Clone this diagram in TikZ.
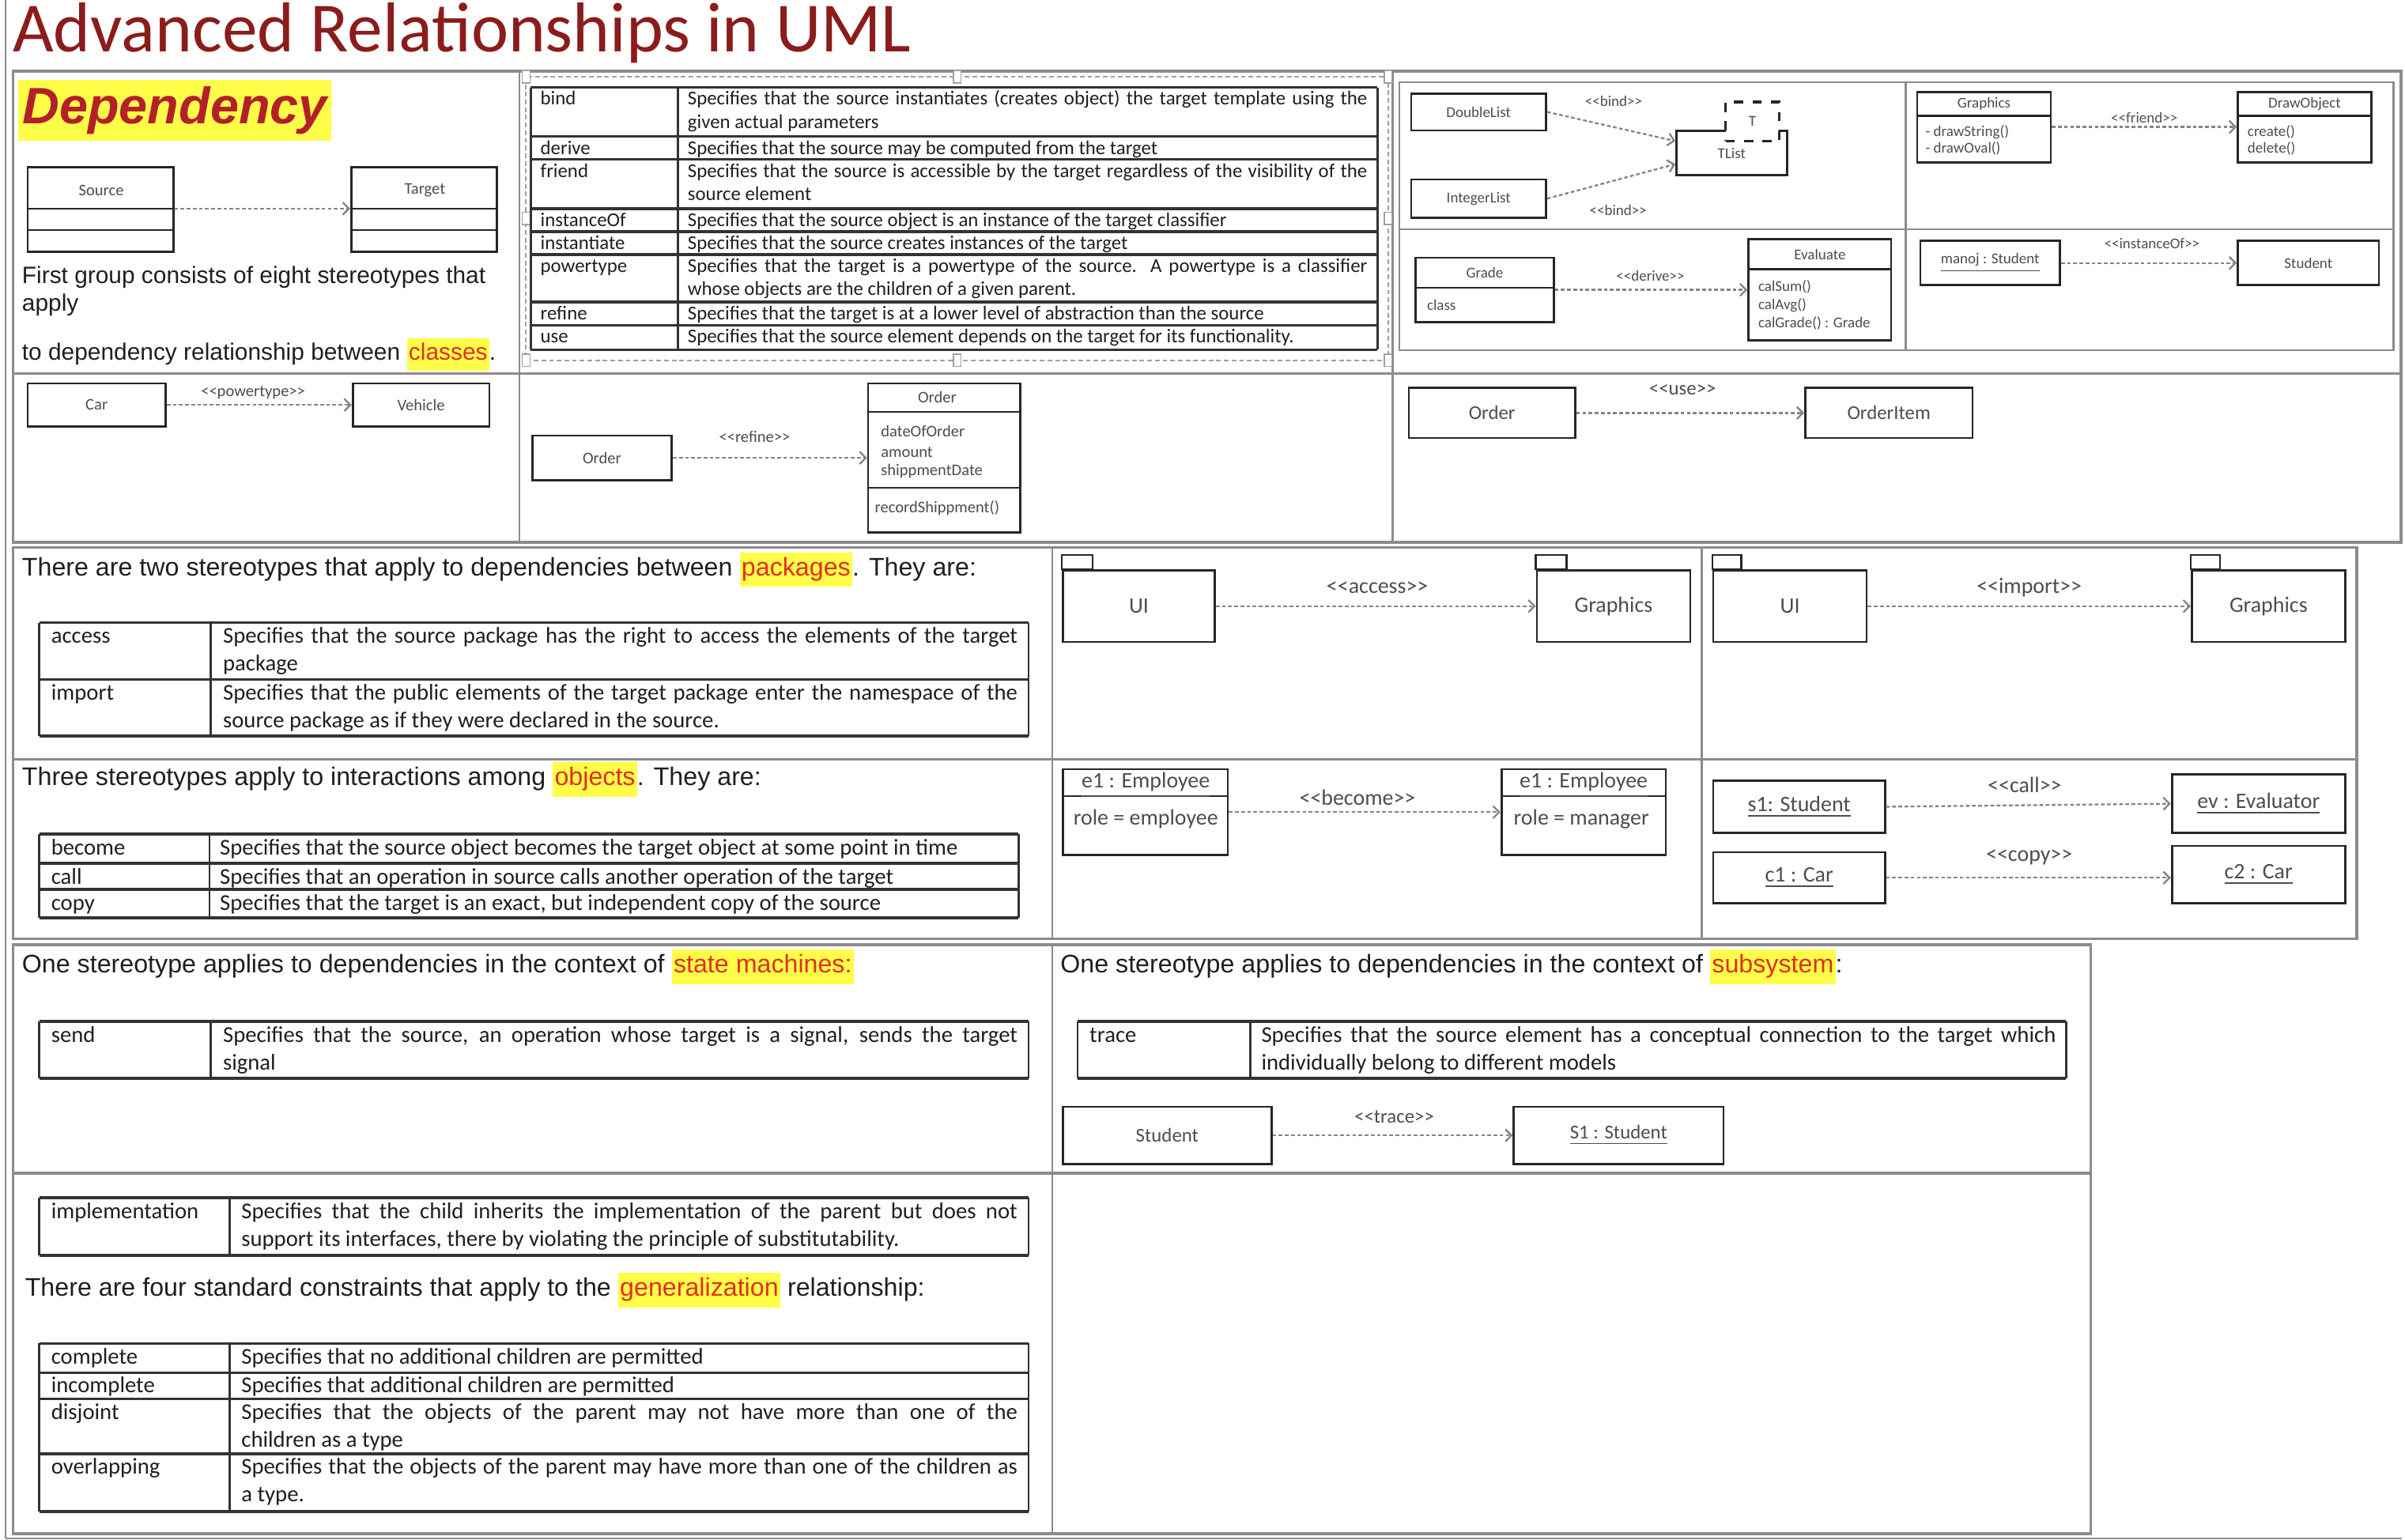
\documentclass[tikz,border=0pt]{standalone}
\usepackage{fontspec}
\setmainfont{Liberation Sans}
\newfontfamily\calfont{Carlito}
\usetikzlibrary{arrows.meta,fit}
\definecolor{bordergray}{HTML}{8C8C8C}
\definecolor{tablegray}{HTML}{333333}
\definecolor{boxc}{HTML}{262626}
\definecolor{umltext}{HTML}{4D4D4D}
\definecolor{depc}{HTML}{858585}
\definecolor{titlec}{HTML}{8B1C1C}
\definecolor{depred}{HTML}{B3202A}
\definecolor{hlr}{HTML}{E0301E}
\definecolor{hly}{HTML}{FFFF4A}
\definecolor{selc}{HTML}{A0A0A0}
\definecolor{txt}{HTML}{1F1F1F}
\newcommand{\hlw}[1]{{\setlength{\fboxsep}{0.6pt}\colorbox{hly}{\strut\textcolor{hlr}{#1}}}}
\newcommand{\stereo}[1]{\textless\textless#1\textgreater\textgreater}
\newcommand{\ubox}[7][]{\node[ubox,#1,fit={(#3,#4) (#5,#6)}] (#2) {};
  \node[lab,#1,draw=none,fill=none] (#2t) at (#2.center) {#7};}
\newcommand{\compline}[2]{\draw[boxline] (#1.west |- 0,#2) -- (#1.east |- 0,#2);}
\newcommand\ufa{\calfont\fontsize{4.9}{5.9}\selectfont}
\newcommand\ufb{\calfont\fontsize{5.3}{6.4}\selectfont}
\newcommand\ufc{\calfont\fontsize{6.4}{7.7}\selectfont}
\newcommand\ufd{\calfont\fontsize{7.2}{8.6}\selectfont}
\newcommand\tfa{\calfont\fontsize{6.4}{7.6}\selectfont}
\newcommand\tfb{\calfont\fontsize{7.4}{9}\selectfont}
\begin{document}
\begin{tikzpicture}[x=0.5pt,y=-0.5pt,
  blk/.style={draw=bordergray,line width=0.9pt},
  blkin/.style={draw=bordergray,line width=0.6pt},
  tline/.style={draw=tablegray,line width=0.9pt},
  tvline/.style={draw=tablegray,line width=0.7pt},
  bodyA/.style={anchor=west,inner sep=0pt,text=txt,font=\fontsize{7.7}{9.3}\selectfont,text height=5.6pt,text depth=1.6pt},
  bodyB/.style={anchor=west,inner sep=0pt,text=txt,font=\fontsize{8.3}{10}\selectfont,text height=6pt,text depth=1.7pt},
  tk1/.style={anchor=north west,inner sep=0pt,text=txt,font=\tfa,execute at begin node=\strut},
  td1/.style={tk1,text width=221.5pt,align=justify},
  tk2/.style={anchor=north west,inner sep=0pt,text=txt,font=\tfb,execute at begin node=\strut},
  td2/.style={tk2,text width=259pt,align=justify},
  td6/.style={tk2,text width=253pt,align=justify},
  ubox/.style={draw=boxc,line width=0.7pt,fill=white,inner sep=0pt,text=umltext},
  boxline/.style={draw=boxc,line width=0.6pt},
  lab/.style={inner sep=0pt,text=umltext},
  dep/.style={draw=depc,line width=0.6pt,dash pattern=on 1.2pt off 0.8pt,-{Straight Barb[length=2pt,width=4pt]}}
]
\useasboundingbox[fill=white] (0,0) rectangle (1568,1004);

% title
\node[anchor=base west,inner sep=0pt,font=\calfont\fontsize{23}{27}\selectfont,text=titlec] (title) at (8,34) {Advanced Relationships in UML};

% outer lines
\draw[blkin] (3.5,0) -- (3.5,1003);
\draw[blkin] (3.5,1003) -- (1566,1003);

% ================= Block 1 =================
\draw[blk] (8.5,46.5) rectangle (1565.5,353.5);
\draw[blkin] (338.5,46.5) -- (338.5,353.5);
\draw[blkin] (908,46.5) -- (908,353.5);
\draw[blk] (8.5,243.5) -- (1565.5,243.5);
\draw[blkin] (912.5,53.5) rectangle (1560.5,228.5);
\draw[blkin] (1242.5,53.5) -- (1242.5,228.5);
\draw[blkin] (912.5,149.5) -- (1560.5,149.5);

% Dependency heading
\node[fill=hly,minimum width=102pt,minimum height=20pt,inner sep=0pt,font=\bfseries\itshape\fontsize{16.7}{20}\selectfont,text=depred] (dephead) at (114,72) {Dependency};

% Source / Target
\ubox{src}{18}{109}{113}{164}{}
\compline{src}{136}
\compline{src}{150}
\node[lab,font=\ufb] (srct) at (66,124) {Source};
\ubox{tgt}{229}{109}{324}{164}{}
\compline{tgt}{136}
\compline{tgt}{150}
\node[lab,font=\ufb] (tgtt) at (277,124) {Target};
\draw[dep] (src.east |- 0,136) -- (tgt.west |- 0,136);

\node[bodyA] (fg1) at (14,181) {First group consists of eight stereotypes that};
\node[bodyA] (fg2) at (14,199) {apply};
\node[bodyA] (fg3) at (14,231) {to dependency relationship between \hlw{classes}.};

% Table 1 with selection frame
\draw[selc,line width=0.5pt,dash pattern=on 1.5pt off 1pt] (343,50) rectangle (905,235);
\foreach \hx/\hy in {343/50,624/50,905/50,343/142.5,905/142.5,343/235,624/235,905/235}
  \draw[selc,fill=white,line width=0.4pt] (\hx-2.5,\hy-4) rectangle (\hx+2.5,\hy+4);
\foreach \yy in {57,89,104,136,151,166,197,212,228}
  \draw[tline] (346,\yy) -- (898,\yy);
\draw[tvline] (346,57) -- (346,228);
\draw[tvline] (442,57) -- (442,228);
\draw[tvline] (898,57) -- (898,228);
\node[tk1] (k1a) at (352,57.5) {bind};
\node[td1] (d1a) at (448,57.5) {Specifies that the source instantiates (creates object) the target template using the\linebreak given actual parameters};
\node[tk1] (k1b) at (352,89.5) {derive};
\node[td1] (d1b) at (448,89.5) {Specifies that the source may be computed from the target};
\node[tk1] (k1c) at (352,104.5) {friend};
\node[td1] (d1c) at (448,104.5) {Specifies that the source is accessible by the target regardless of the visibility of the\linebreak source element};
\node[tk1] (k1d) at (352,136.5) {instanceOf};
\node[td1] (d1d) at (448,136.5) {Specifies that the source object is an instance of the target classifier};
\node[tk1] (k1e) at (352,151.5) {instantiate};
\node[td1] (d1e) at (448,151.5) {Specifies that the source creates instances of the target};
\node[tk1] (k1f) at (352,166.5) {powertype};
\node[td1] (d1f) at (448,166.5) {Specifies that the target is a powertype of the source. A powertype is a classifier\linebreak whose objects are the children of a given parent.};
\node[tk1] (k1g) at (352,197.5) {refine};
\node[td1] (d1g) at (448,197.5) {Specifies that the target is at a lower level of abstraction than the source};
\node[tk1] (k1h) at (352,212.5) {use};
\node[td1] (d1h) at (448,212.5) {Specifies that the source element depends on the target for its functionality.};

% ---- bind quadrant
\ubox[font=\ufa]{dl}{920}{61}{1008}{85}{DoubleList}
\ubox[font=\ufa]{il}{920}{117}{1008}{142}{IntegerList}
\ubox{tl}{1093}{85.5}{1165}{114}{}
\node[lab,font=\ufa] (tlt) at (1129,100) {TList};
\ubox[font=\ufa,dashed,line width=0.9pt]{tp}{1125}{66.5}{1160}{92}{T}
\node[lab,font=\ufa] (bd1) at (1052,66) {\stereo{bind}};
\node[lab,font=\ufa] (bd2) at (1055,137) {\stereo{bind}};
\draw[dep] (dl.east) -- (tl.west |- 0,92);
\draw[dep] (il.east) -- (tl.west |- 0,107);

% ---- friend quadrant
\ubox{grc}{1250}{60}{1337}{106}{}
\compline{grc}{75.6}
\node[lab,font=\ufa] (grn) at (1293.5,68) {Graphics};
\node[lab,font=\ufa,anchor=west] (grm1) at (1255,86) {- drawString()};
\node[lab,font=\ufa,anchor=west] (grm2) at (1255,97) {- drawOval()};
\ubox{dro}{1459}{60}{1546}{106}{}
\compline{dro}{75.6}
\node[lab,font=\ufa] (dron) at (1502.5,68) {DrawObject};
\node[lab,font=\ufa,anchor=west] (drm1) at (1465,86) {create()};
\node[lab,font=\ufa,anchor=west] (drm2) at (1465,97) {delete()};
\node[lab,font=\ufa] (frl) at (1398,77) {\stereo{friend}};
\draw[dep] (grc.east |- 0,82.8) -- (dro.west |- 0,82.8);

% ---- derive quadrant
\ubox{gdc}{923}{168}{1013}{210}{}
\compline{gdc}{187.8}
\node[lab,font=\ufa] (gdn) at (968,178) {Grade};
\node[lab,font=\ufa,anchor=west] (gda) at (930,199) {class};
\ubox{evc}{1140}{156}{1233}{222}{}
\compline{evc}{175.6}
\node[lab,font=\ufa] (evn) at (1186.5,166) {Evaluate};
\node[lab,font=\ufa,anchor=west] (evm1) at (1146,187) {calSum()};
\node[lab,font=\ufa,anchor=west] (evm2) at (1146,199) {calAvg()};
\node[lab,font=\ufa,anchor=west] (evm3) at (1146,211) {calGrade() : Grade};
\node[lab,font=\ufa] (dvl) at (1076,180) {\stereo{derive}};
\draw[dep] (gdc.east |- 0,189) -- (evc.west |- 0,189);

% ---- instanceOf quadrant
\ubox[font=\ufa]{mjc}{1252}{157}{1343}{186}{\underline{manoj : Student}}
\ubox[font=\ufa]{stc}{1459}{157}{1551}{186}{Student}
\node[lab,font=\ufa] (iol) at (1403,159) {\stereo{instanceOf}};
\draw[dep] (mjc.east) -- (stc.west);

% ---- row 2
\ubox[font=\ufb]{car}{18}{250}{108}{278}{Car}
\ubox[font=\ufb]{veh}{230}{250}{319}{278}{Vehicle}
\node[lab,font=\ufb] (ptl) at (165,256) {\stereo{powertype}};
\draw[dep] (car.east) -- (veh.west);

\ubox[font=\ufb]{ord1}{347}{284}{438}{313}{Order}
\ubox{ordc}{566}{250}{665}{347}{}
\compline{ordc}{268.6}
\compline{ordc}{318}
\node[lab,font=\ufb] (ordn) at (611,259) {Order};
\node[lab,font=\ufb,anchor=west] (orda1) at (574,281) {dateOfOrder};
\node[lab,font=\ufb,anchor=west] (orda2) at (574,295) {amount};
\node[lab,font=\ufb,anchor=west] (orda3) at (574,307) {shippmentDate};
\node[lab,font=\ufb,anchor=west] (ordm) at (570,331) {recordShippment()};
\node[lab,font=\ufb] (rfl) at (492,285) {\stereo{refine}};
\draw[dep] (ord1.east) -- (ord1.east -| ordc.west);

\ubox[font=\ufc]{ord2}{918.5}{253}{1027}{285.5}{Order}
\ubox[font=\ufc]{oitem}{1177}{253}{1286}{285.5}{OrderItem}
\node[lab,font=\ufc] (usl) at (1097,254) {\stereo{use}};
\draw[dep] (ord2.east) -- (oitem.west);

% ================= Block 2 =================
\draw[blk] (8.5,357) rectangle (1536.5,612);
\draw[blkin] (686,357) -- (686,612);
\draw[blkin] (1109.5,357) -- (1109.5,612);
\draw[blk] (8.5,495) -- (1536.5,495);

\node[bodyB] (pk) at (14,371) {There are two stereotypes that apply to dependencies between \hlw{packages}. They are:};
\foreach \yy in {406,443,480}
  \draw[tline] (25.6,\yy) -- (670.6,\yy);
\draw[tvline] (25.6,406) -- (25.6,480);
\draw[tvline] (137.5,406) -- (137.5,480);
\draw[tvline] (670.6,406) -- (670.6,480);
\node[tk2] (k2a) at (33,406.5) {access};
\node[td2] (d2a) at (145,406.5) {Specifies that the source package has the right to access the elements of the target\linebreak package};
\node[tk2] (k2b) at (33,443.5) {import};
\node[td2] (d2b) at (145,443.5) {Specifies that the public elements of the target package enter the namespace of the\linebreak source package as if they were declared in the source.};

\node[bodyB] (ob) at (14,508) {Three stereotypes apply to interactions among \hlw{objects}. They are:};
\foreach \yy in {543.8,563,580,598.5}
  \draw[tline] (25.6,\yy) -- (664,\yy);
\draw[tvline] (25.6,543.8) -- (25.6,598.5);
\draw[tvline] (136.6,543.8) -- (136.6,598.5);
\draw[tvline] (664,543.8) -- (664,598.5);
\node[tk2] (k3a) at (33,544.3) {become};
\node[tk2] (d3a) at (143,544.3) {Specifies that the source object becomes the target object at some point in time};
\node[tk2] (k3b) at (33,563.3) {call};
\node[tk2] (d3b) at (143,563.3) {Specifies that an operation in source calls another operation of the target};
\node[tk2] (k3c) at (33,580.5) {copy};
\node[tk2] (d3c) at (143,580.5) {Specifies that the target is an exact, but independent copy of the source};

% packages diagrams
\ubox[font=\ufd]{ui1}{693}{372}{792}{418.5}{UI}
\draw[boxline] (ui1.north west) rectangle ++(20,-9.5);
\ubox[font=\ufd]{gp1}{1002}{372}{1102}{418.5}{Graphics}
\draw[boxline] (gp1.north west) rectangle ++(20,-9.5);
\node[lab,font=\ufd] (acl) at (898,383) {\stereo{access}};
\draw[dep] (ui1.east) -- (gp1.west);

\ubox[font=\ufd]{ui2}{1117}{372}{1217}{418.5}{UI}
\draw[boxline] (ui2.north west) rectangle ++(19,-9.5);
\ubox[font=\ufd]{gp2}{1429}{372}{1529}{418.5}{Graphics}
\draw[boxline] (gp2.north west) rectangle ++(19,-9.5);
\node[lab,font=\ufd] (iml) at (1323,383) {\stereo{import}};
\draw[dep] (ui2.east) -- (gp2.west);

% objects diagrams
\ubox{e1a}{693}{501.5}{800.5}{557.6}{}
\compline{e1a}{519}
\node[lab,font=\ufd] (e1an) at (747,512) {\underline{e1 : Employee}};
\node[lab,font=\ufd] (e1ar) at (747,534) {role = employee};
\ubox{e1b}{979}{501.5}{1086}{557.6}{}
\compline{e1b}{519}
\node[lab,font=\ufd] (e1bn) at (1032.5,512) {\underline{e1 : Employee}};
\node[lab,font=\ufd] (e1br) at (1031,534) {role = manager};
\node[lab,font=\ufd] (bcl) at (885,520) {\stereo{become}};
\draw[dep] (e1a.east |- 0,529.5) -- (e1b.west |- 0,529.5);

\ubox[font=\ufd]{s1c}{1117}{509}{1229}{543}{\underline{s1: Student}}
\ubox[font=\ufd]{evo}{1416}{505}{1529}{543}{\underline{ev : Evaluator}}
\node[lab,font=\ufd] (cll) at (1320,512) {\stereo{call}};
\draw[dep] (s1c.east) -- (evo.west |- 0,524);
\ubox[font=\ufd]{c1c}{1117}{555.6}{1229}{589}{\underline{c1 : Car}}
\ubox[font=\ufd]{c2c}{1416}{551.5}{1529}{589}{\underline{c2 : Car}}
\node[lab,font=\ufd] (cpl) at (1323,559) {\stereo{copy}};
\draw[dep] (c1c.east) -- (c2c.west |- c1c.east);

% ================= Block 3/4 =================
\draw[blk] (8.5,616) rectangle (1363,1000);
\draw[blkin] (686,616) -- (686,1000);
\draw[blk] (8.5,765) -- (1363,765);

\node[bodyB] (sm) at (14,630) {One stereotype applies to dependencies in the context of \hlw{state machines:}};
\draw[tline] (25.6,666) -- (670.6,666);
\draw[tline] (25.6,703) -- (670.6,703);
\draw[tvline] (25.6,666) -- (25.6,703);
\draw[tvline] (137.5,666) -- (137.5,703);
\draw[tvline] (670.6,666) -- (670.6,703);
\node[tk2] (k4a) at (33,666.5) {send};
\node[td2] (d4a) at (145,666.5) {Specifies that the source, an operation whose target is a signal, sends the target\linebreak signal};

\node[bodyB] (ss) at (691,630) {One stereotype applies to dependencies in the context of \hlw{subsystem}:};
\draw[tline] (702.6,666) -- (1347,666);
\draw[tline] (702.6,703) -- (1347,703);
\draw[tvline] (702.6,666) -- (702.6,703);
\draw[tvline] (815,666) -- (815,703);
\draw[tvline] (1347,666) -- (1347,703);
\node[tk2] (k5a) at (710,666.5) {trace};
\node[td2] (d5a) at (822,666.5) {Specifies that the source element has a conceptual connection to the target which\linebreak individually belong to different models};

\ubox[font=\ufc]{stt}{693}{721.6}{829}{759}{Student}
\ubox[font=\ufc]{s1s}{987}{721.6}{1123.6}{759}{\underline{S1 : Student}}
\node[lab,font=\ufc] (trl) at (909,728) {\stereo{trace}};
\draw[dep] (stt.east) -- (s1s.west);

% implementation / generalization
\draw[tline] (25.6,781) -- (670.6,781);
\draw[tline] (25.6,818.6) -- (670.6,818.6);
\draw[tvline] (25.6,781) -- (25.6,818.6);
\draw[tvline] (149.8,781) -- (149.8,818.6);
\draw[tvline] (670.6,781) -- (670.6,818.6);
\node[tk2] (k6a) at (33,781.5) {implementation};
\node[td6] (d6a) at (157,781.5) {Specifies that the child inherits the implementation of the parent but does not\linebreak support its interfaces, there by violating the principle of substitutability.};

\node[bodyB] (gn) at (16,841) {There are four standard constraints that apply to the \hlw{generalization} relationship:};
\foreach \yy in {876,895,912,948,985.6}
  \draw[tline] (25.6,\yy) -- (670.6,\yy);
\draw[tvline] (25.6,876) -- (25.6,985.6);
\draw[tvline] (149.8,876) -- (149.8,985.6);
\draw[tvline] (670.6,876) -- (670.6,985.6);
\node[tk2] (k7a) at (33,876.3) {complete};
\node[td6] (d7a) at (157,876.3) {Specifies that no additional children are permitted};
\node[tk2] (k7b) at (33,894.8) {incomplete};
\node[td6] (d7b) at (157,894.8) {Specifies that additional children are permitted};
\node[tk2] (k7c) at (33,912.3) {disjoint};
\node[td6] (d7c) at (157,912.3) {Specifies that the objects of the parent may not have more than one of the\linebreak children as a type};
\node[tk2] (k7d) at (33,948.3) {overlapping};
\node[td6] (d7d) at (157,948.3) {Specifies that the objects of the parent may have more than one of the children as\linebreak a type.};

\end{tikzpicture}
\end{document}
